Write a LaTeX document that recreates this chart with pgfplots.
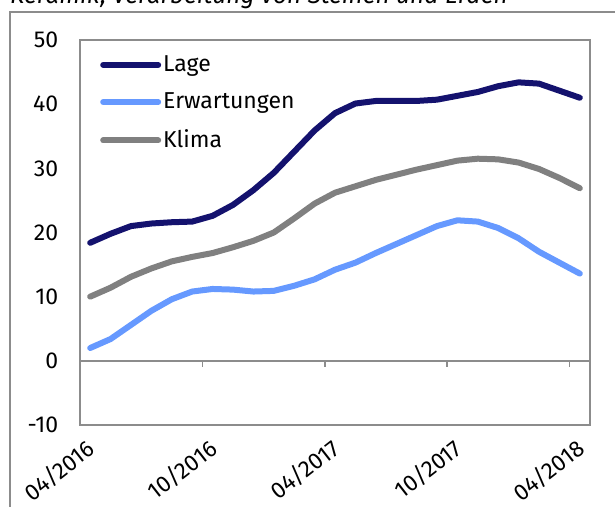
\documentclass[border=0pt]{standalone}
\usepackage{fontspec}
\setmainfont{Fira Sans}
\usepackage{pgfplots}
\usepackage{pgfplotstable}
\pgfplotsset{compat=1.18}

\definecolor{lage}{RGB}{20,18,110}
\definecolor{erw}{RGB}{102,153,255}
\definecolor{klima}{RGB}{128,128,128}
\definecolor{framegray}{RGB}{140,140,140}

% Monatswerte 04/2016 bis 04/2018
\pgfplotstableread{
i  lage  erw   klima
0  18.4  2.0   10.0
1  19.8  3.4   11.4
2  21.0  5.6   13.1
3  21.4  7.8   14.4
4  21.6  9.6   15.5
5  21.7  10.8  16.2
6  22.6  11.2  16.8
7  24.3  11.1  17.7
8  26.6  10.8  18.7
9  29.3  10.9  20.0
10 32.6  11.7  22.2
11 35.9  12.7  24.5
12 38.6  14.2  26.2
13 40.1  15.3  27.2
14 40.5  16.8  28.2
15 40.5  18.2  29.0
16 40.5  19.6  29.8
17 40.7  21.0  30.5
18 41.3  21.9  31.2
19 41.9  21.7  31.5
20 42.8  20.7  31.4
21 43.4  19.1  30.9
22 43.2  17.0  29.9
23 42.1  15.3  28.5
24 41.0  13.6  26.9
}\datatable

\begin{document}
\fontsize{23}{27}\selectfont
\begin{tikzpicture}
\useasboundingbox (0,0) rectangle (615pt,506pt);
\begin{scope}
\clip (0,0) rectangle (615pt,506pt);
\draw[framegray, line width=1.5pt] (10pt,-20pt) -- (10pt,494pt) -- (640pt,494pt);
\node[anchor=base west, font=\fontsize{24.5}{28}\selectfont\itshape, inner sep=0pt] at (10pt,502pt)
  {Keramik, Verarbeitung von Steinen und Erden};
\begin{axis}[
  at={(80pt,81pt)}, anchor=south west,
  width=510pt, height=385pt, scale only axis,
  xmin=-0.5, xmax=24.5, ymin=-10, ymax=50,
  xtick={-0.5,5.5,11.5,17.5,23.5},
  xticklabels={04/2016,10/2016,04/2017,10/2017,04/2018},
  ytick={-10,0,10,20,30,40,50},
  yticklabels={-10,0,10,20,30,40,50},
  major tick length=0pt,
  axis line style={framegray, line width=1.5pt},
  tick label style={font=\fontsize{23}{27}\selectfont},
  yticklabel style={xshift=-14pt},
  xticklabel style={inner sep=0pt, xshift=5pt, yshift=-12pt, rotate=38, anchor=north east},
  legend style={at={(0,1)}, anchor=north west, draw=none, fill=none,
    font=\fontsize{23}{27}\selectfont, row sep=14pt, xshift=17pt, yshift=-11pt},
  legend cell align=left,
  legend image code/.code={\draw[#1] (0pt,0pt) -- (55pt,0pt);},
  every axis plot/.append style={line width=6pt, line cap=round, line join=round},
]
\addplot[lage] table[x=i, y=lage] {\datatable};
\addlegendentry{Lage}
\addplot[erw] table[x=i, y=erw] {\datatable};
\addlegendentry{Erwartungen}
\addplot[klima] table[x=i, y=klima] {\datatable};
\addlegendentry{Klima}
\draw[framegray, line width=1.5pt] (axis cs:-0.5,0) -- (axis cs:24.5,0);
\draw[framegray, line width=1.5pt] (axis cs:5.5,0) -- ++(0pt,-6pt);
\draw[framegray, line width=1.5pt] (axis cs:11.5,0) -- ++(0pt,-6pt);
\draw[framegray, line width=1.5pt] (axis cs:17.5,0) -- ++(0pt,-6pt);
\draw[framegray, line width=1.5pt] (axis cs:23.5,0) -- ++(0pt,-6pt);
\end{axis}
\end{scope}
\end{tikzpicture}
\end{document}
